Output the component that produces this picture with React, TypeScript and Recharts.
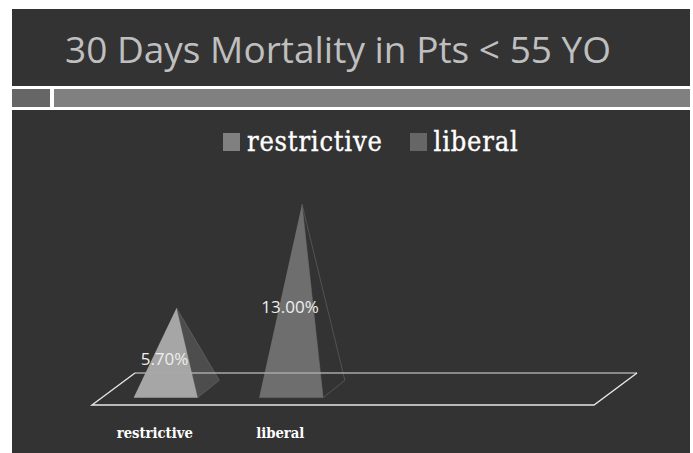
import React from "react";
import { BarChart, Bar, XAxis, YAxis, Cell, Legend, LabelList, ReferenceLine } from "recharts";

const categories = ["restrictive", "liberal", "", " "];
const mortality = [5.7, 13.0, null, null];
const legendNames = ["restrictive", "liberal"];
const frontColors = ["#a6a6a6", "#6e6e6e"];
const legendColors = ["#808080", "#666666"];
const sideColors = ["#4d4d4d", "#333333"];

const data = categories.map((name, i) => ({ name, value: mortality[i] }));

const Pyramid = (props: any) => {
  const { x, y, width, height, index } = props;
  if (!height) return null;
  const cx = x + width / 2;
  const base = y + height;
  const dx = width * 0.17;
  const dy = width * 0.135;
  const frontLeft = `${x - dx},${base + dy}`;
  const frontRight = `${x + width - dx},${base + dy}`;
  const backRight = `${x + width + dx},${base - dy}`;
  return (
    <g>
      <polygon points={`${cx},${y} ${frontRight} ${backRight}`} fill={sideColors[index]} stroke="#6a6a6a" strokeWidth={0.6} />
      <polygon points={`${cx},${y} ${frontLeft} ${frontRight}`} fill={frontColors[index]} />
    </g>
  );
};

// floor of the 3D plot, drawn around the zero line
const Floor = (props: any) => {
  const { x1, x2, y1 } = props;
  const dx = 21.5;
  const dy = 16;
  return (
    <g fill="none" strokeWidth={1.4}>
      <path d={`M${x1 + dx},${y1 - dy} L${x2 + dx},${y1 - dy}`} stroke="#a8a8a8" />
      <path d={`M${x1 + dx},${y1 - dy} L${x1 - dx},${y1 + dy} L${x2 - dx},${y1 + dy} L${x2 + dx},${y1 - dy}`} stroke="#e6e6e6" />
    </g>
  );
};

const CategoryTick = (props: any) => {
  const { x, y, payload } = props;
  return (
    <text x={x - 21.5} y={y} textAnchor="middle" fill="#ffffff" fontFamily="'DejaVu Serif Condensed', 'DejaVu Serif'" fontWeight={700} fontSize={14.7}>
      {payload.value}
    </text>
  );
};

const LegendRow = () => (
  <div style={{ display: "flex", alignItems: "center", fontFamily: "'DejaVu Serif Condensed', 'DejaVu Serif'", fontSize: 27, letterSpacing: 0.8, WebkitTextStroke: "0.35px #ffffff", color: "#ffffff" }}>
    {legendNames.map((name, i) => (
      <span key={name} style={{ display: "flex", alignItems: "center", marginRight: 27 }}>
        <span style={{ width: 17, height: 18, background: legendColors[i], marginRight: 7 }} />
        {name}
      </span>
    ))}
  </div>
);

export default function App() {
  return (
    <div style={{ position: "absolute", left: 0, top: 0, width: 693, height: 453, background: "#ffffff", overflow: "hidden" }}>
      <div style={{ position: "absolute", left: 12, top: 9, width: 678, height: 444, background: "#333333" }} />
      <div style={{ position: "absolute", left: 65, top: 23, fontFamily: "'Open Sans'", fontSize: 37, color: "#bfbfbf", whiteSpace: "nowrap" }}>
        30 Days Mortality in Pts &lt; 55 YO
      </div>
      <div style={{ position: "absolute", left: 12, top: 86, width: 678, height: 24, background: "#ffffff" }} />
      <div style={{ position: "absolute", left: 12, top: 89, width: 38, height: 18, background: "#666666" }} />
      <div style={{ position: "absolute", left: 54, top: 89, width: 636, height: 18, background: "#808080" }} />
      <div style={{ position: "absolute", left: 0, top: 0 }}>
        <BarChart width={693} height={453} data={data} margin={{ top: 159, right: 77.5, bottom: 0, left: 113.5 }} barSize={64}>
          <XAxis dataKey="name" height={64} axisLine={false} tickLine={false} tick={<CategoryTick />} tickMargin={43} interval={0} />
          <YAxis hide domain={[0, 14]} />
          <ReferenceLine y={0} shape={<Floor />} />
          <Legend content={<LegendRow />} verticalAlign="top" wrapperStyle={{ left: 223, top: 126, width: 420 }} />
          <Bar dataKey="value" isAnimationActive={false} shape={<Pyramid />}>
            {data.map((d, i) => (
              <Cell key={i} fill={frontColors[i] ?? "none"} />
            ))}
            <LabelList
              dataKey="value"
              position="center"
              dx={-12}
              dy={10}
              fill="#eeeeee"
              fontFamily="'Open Sans'"
              fontSize={17}
              formatter={(v: any) => (v == null ? "" : `${Number(v).toFixed(2)}%`)}
            />
          </Bar>
        </BarChart>
      </div>
    </div>
  );
}
